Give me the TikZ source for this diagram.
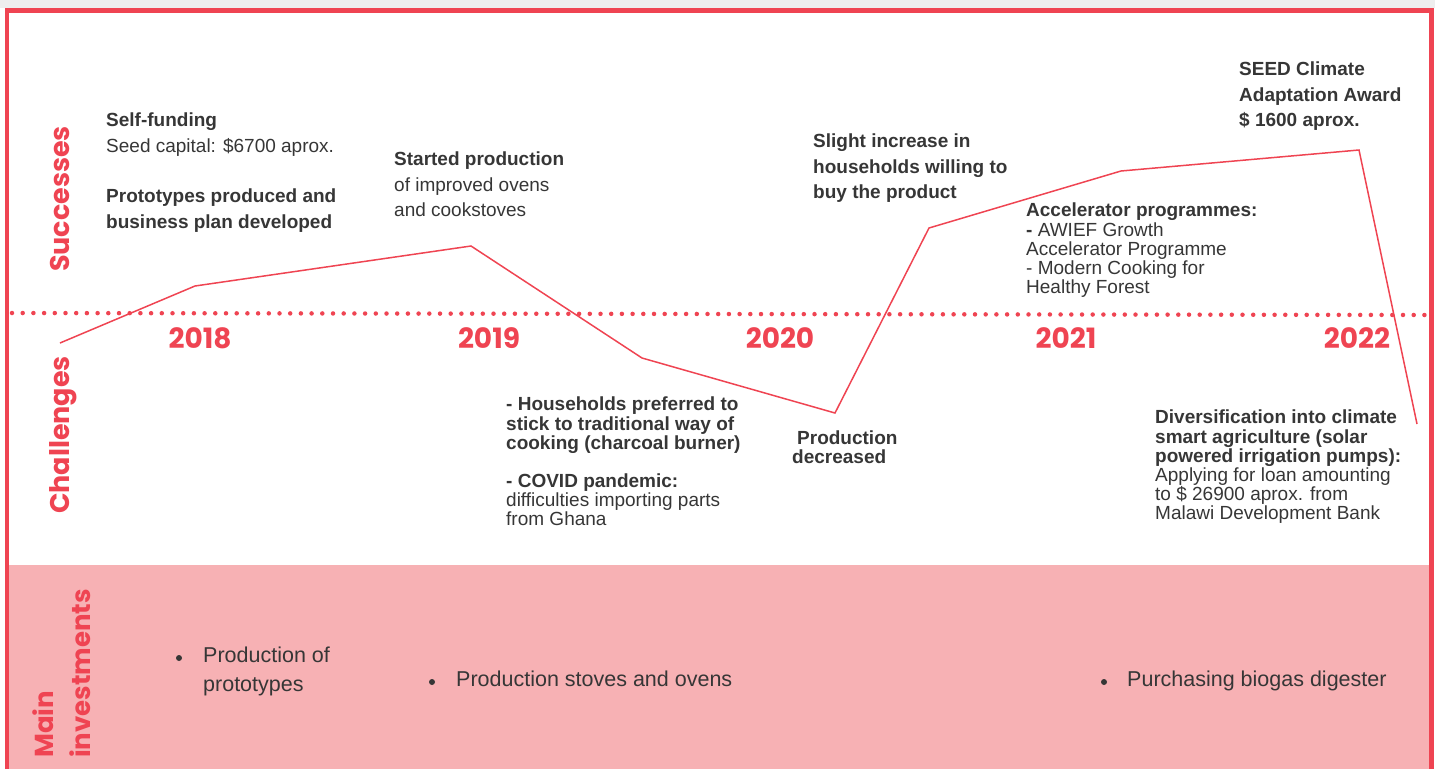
\documentclass[tikz,border=0pt]{standalone}
\usepackage{fontspec}
\setmainfont{Liberation Sans}
\newfontfamily\headfont{Poppins}
\usepackage{xcolor}
\usetikzlibrary{positioning,calc}
\definecolor{tlred}{HTML}{EF4452}
\definecolor{tlpink}{HTML}{F7B1B4}
\definecolor{tltext}{HTML}{363636}
\definecolor{tlgray}{HTML}{EEEEEE}

\begin{document}
\begin{tikzpicture}[
    x=1pt, y=-1pt,
    note/.style={anchor=north west, align=left, inner sep=0pt, text=tltext, font=\fontsize{19}{25.5}\selectfont},
    boldnote/.style={note, font=\bfseries\fontsize{19}{25.5}\selectfont},
    tightnote/.style={note, font=\fontsize{19}{19.2}\selectfont},
    year/.style={anchor=base, inner sep=0pt, text=tlred, font=\headfont\bfseries\fontsize{28}{28}\selectfont},
    band/.style={anchor=base, rotate=90, inner sep=0pt, text=tlred, font=\headfont\bfseries\fontsize{27}{27}\selectfont},
    invest/.style={anchor=north west, align=left, inner sep=0pt, text=tltext, font=\fontsize{21.5}{29}\selectfont},
    bulletdot/.style={circle, fill=tltext, inner sep=0pt, minimum size=6pt},
    trend/.style={draw=tlred, line width=1.5pt}
]
    \useasboundingbox (0,0) rectangle (1435,769);

    % frame and investment band
    \fill[tlgray] (0,0) rectangle (1435,8);
    \fill[tlpink] (7,565) rectangle (1431,769);
    \draw[tlred, line width=4.5pt] (7,769) -- (7,10.5) -- (1431.5,10.5) -- (1431.5,769);

    % time axis
    \coordinate (axl) at (12,313);
    \coordinate (axr) at (1428,315);
    \draw[tlred, line width=4.5pt, line cap=round, dash pattern=on 0pt off 10.7pt] (axl) -- (axr);

    \node[year] (y2018) at (200,348) {2018};
    \node[year] (y2019) at (489,348) {2019};
    \node[year] (y2020) at (780,348) {2020};
    \node[year] (y2021) at (1066,348) {2021};
    \node[year] (y2022) at (1357,348) {2022};

    \node[band] (succ) at (69,199) {Successes};
    \node[band] (chal) at (69,435) {Challenges};
    \node[band, anchor=north west, align=left, font=\headfont\bfseries\fontsize{26}{37}\selectfont] (maininv) at (32,758) {Main\\investments};

    % trend line
    \coordinate (p0) at (60,343);
    \coordinate (p1) at (195,286);
    \coordinate (p2) at (471,246);
    \coordinate (p3) at (642,358);
    \coordinate (p4) at (835,413);
    \coordinate (p5) at (929,228);
    \coordinate (p6) at (1121,171);
    \coordinate (p7) at (1359,150);
    \coordinate (p8) at (1417,424);
    \draw[trend] (p0) -- (p1) -- (p2) -- (p3) -- (p4) -- (p5) -- (p6) -- (p7) -- (p8);

    % successes
    \node[note] (selffund) at (106,113) {\textbf{Self-funding}\\Seed capital: \$6700 aprox.};
    \node[boldnote] (protos) at (106,189) {Prototypes produced and\\business plan developed};
    \node[note] (started) at (394,152) {\textbf{Started production}\\of improved ovens\\and cookstoves};
    \node[boldnote] (slight) at (813,134) {Slight increase in\\households willing to\\buy the product};
    \node[tightnote] (accel) at (1026,203) {\textbf{Accelerator programmes:}\\\textbf{-} AWIEF Growth\\Accelerator Programme\\- Modern Cooking for\\Healthy Forest};
    \node[boldnote] (seedaward) at (1239,62) {SEED Climate\\Adaptation Award\\\$ 1600 aprox.};

    % challenges
    \node[tightnote] (hhold) at (506,397) {\textbf{- Households preferred to}\\\textbf{stick to traditional way of}\\\textbf{cooking (charcoal burner)}\\[19pt]\textbf{- COVID pandemic:}\\difficulties importing parts\\from Ghana};
    \node[tightnote, font=\bfseries\fontsize{19}{18.5}\selectfont] (proddec) at (792,431) {\hspace*{5pt}Production\\decreased};
    \node[tightnote] (divers) at (1155,410) {\textbf{Diversification into climate}\\\textbf{smart agriculture (solar}\\\textbf{powered irrigation pumps):}\\Applying for loan amounting\\to \$ 26900 aprox. from\\Malawi Development Bank};

    % main investments
    \node[invest] (inv1) at (203,647) {Production of\\prototypes};
    \node[invest] (inv2) at (456,671) {Production stoves and ovens};
    \node[invest] (inv3) at (1127,671) {Purchasing biogas digester};
    \node[bulletdot] (b1) at (179,658) {};
    \node[bulletdot] (b2) at (432,682) {};
    \node[bulletdot] (b3) at (1104,682) {};
\end{tikzpicture}
\end{document}
